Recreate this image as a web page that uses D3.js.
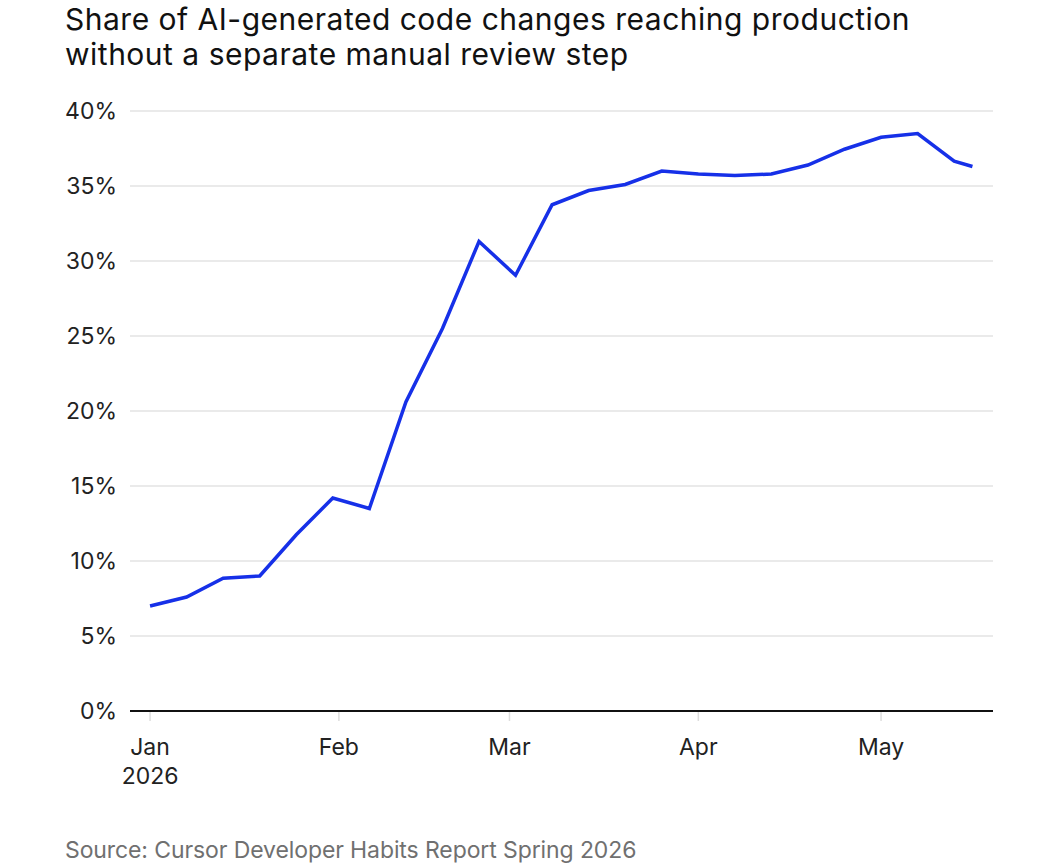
<html>
<head>
<script src="https://d3js.org/d3.v7.min.js"></script>
<style>
  body { margin: 0; background: #fff; }
  text { font-family: Inter, "Liberation Sans", sans-serif; }
</style>
</head>
<body>
<script>
// data: one reading every 6 days
const dates = ["2026-01-01","2026-01-07","2026-01-13","2026-01-19","2026-01-25","2026-01-31",
  "2026-02-06","2026-02-12","2026-02-18","2026-02-24","2026-03-02","2026-03-08",
  "2026-03-14","2026-03-20","2026-03-26","2026-04-01","2026-04-07","2026-04-13",
  "2026-04-19","2026-04-25","2026-05-01","2026-05-07","2026-05-13","2026-05-16"];
const share = [7.0, 7.6, 8.85, 9.0, 11.75, 14.2,
  13.5, 20.6, 25.5, 31.3, 29.05, 33.75,
  34.7, 35.1, 36.0, 35.8, 35.7, 35.8,
  36.4, 37.45, 38.25, 38.5, 36.65, 36.3];
const yTicks = [0, 5, 10, 15, 20, 25, 30, 35, 40];
const titleLines = ["Share of AI-generated code changes reaching production",
  "without a separate manual review step"];
const source = "Source: Cursor Developer Habits Report Spring 2026";

const width = 1056, height = 864;
const plotLeft = 130, plotRight = 993, plotTop = 111, plotBottom = 711;

const data = dates.map((d, i) => ({ date: new Date(d + "T00:00:00Z"), value: share[i] }));

const svg = d3.select("body").append("svg")
  .attr("width", width)
  .attr("height", height);

// title
svg.append("g").selectAll("text")
  .data(titleLines)
  .join("text")
  .attr("x", 65)
  .attr("y", (d, i) => 30 + i * 35)
  .attr("font-size", 30)
  .attr("letter-spacing", 0.5)
  .attr("fill", "#111")
  .text(d => d);

const x = d3.scaleUtc()
  .domain([new Date(Date.UTC(2025, 11, 28, 17)), new Date(Date.UTC(2026, 4, 19, 9))])
  .range([plotLeft, plotRight]);

const y = d3.scaleLinear()
  .domain([0, 40])
  .range([plotBottom, plotTop]);

// gridlines
svg.append("g").selectAll("line")
  .data(yTicks.filter(t => t > 0))
  .join("line")
  .attr("x1", plotLeft)
  .attr("x2", plotRight)
  .attr("y1", d => y(d))
  .attr("y2", d => y(d))
  .attr("stroke", "#e3e3e3")
  .attr("stroke-width", 1.5);

// y labels
svg.append("g").selectAll("text")
  .data(yTicks)
  .join("text")
  .attr("x", 117)
  .attr("y", d => y(d))
  .attr("dy", "0.36em")
  .attr("text-anchor", "end")
  .attr("font-size", 23)
  .attr("fill", "#222")
  .text(d => d + "%");

// x axis
const months = x.ticks(d3.utcMonth.every(1)).filter(d => d >= new Date("2026-01-01T00:00:00Z"));
const xAxis = svg.append("g").attr("transform", `translate(0,${plotBottom})`);
xAxis.selectAll("line.tick")
  .data(months)
  .join("line")
  .attr("class", "tick")
  .attr("x1", d => x(d))
  .attr("x2", d => x(d))
  .attr("y1", 1)
  .attr("y2", 10)
  .attr("stroke", "#dedede")
  .attr("stroke-width", 1.5);
xAxis.append("line")
  .attr("x1", plotLeft)
  .attr("x2", plotRight)
  .attr("stroke", "#111")
  .attr("stroke-width", 2);
const fmt = d3.utcFormat("%b");
const lab = xAxis.selectAll("text")
  .data(months)
  .join("text")
  .attr("x", d => x(d))
  .attr("y", 44)
  .attr("text-anchor", "middle")
  .attr("font-size", 23)
  .attr("fill", "#222");
lab.append("tspan").text(d => fmt(d));
lab.filter(d => d.getUTCMonth() === 0)
  .append("tspan")
  .attr("x", d => x(d))
  .attr("dy", 29)
  .text(d => d.getUTCFullYear());

// line
const line = d3.line()
  .x(d => x(d.date))
  .y(d => y(d.value));
svg.append("path")
  .datum(data)
  .attr("d", line)
  .attr("fill", "none")
  .attr("stroke", "#1630e8")
  .attr("stroke-width", 3.5)
  .attr("stroke-linejoin", "miter");

// source
svg.append("text")
  .attr("x", 65)
  .attr("y", 858)
  .attr("font-size", 23)
  .attr("letter-spacing", -0.1)
  .attr("fill", "#707070")
  .text(source);
</script>
</body>
</html>
